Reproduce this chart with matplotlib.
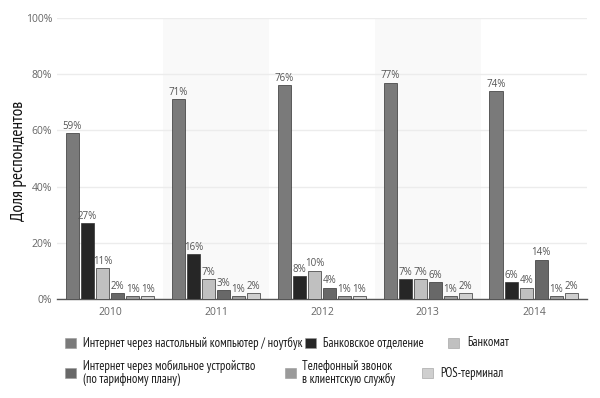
import matplotlib
matplotlib.use("Agg")
import matplotlib.pyplot as plt
from matplotlib.patches import Rectangle
import numpy as np

years = ["2010", "2011", "2012", "2013", "2014"]
series_names = [
    "Интернет через настольный компьютер / ноутбук",
    "Банковское отделение",
    "Банкомат",
    "Интернет через мобильное устройство\n(по тарифному плану)",
    "Телефонный звонок\nв клиентскую службу",
    "POS-терминал",
]
desktop = [59, 71, 76, 77, 74]
branch = [27, 16, 8, 7, 6]
atm = [11, 7, 10, 7, 4]
mobile = [2, 3, 4, 6, 14]
phone = [1, 1, 1, 1, 1]
pos = [1, 2, 1, 2, 2]
series = [desktop, branch, atm, mobile, phone, pos]
colors = ["#7a7a7a", "#262626", "#c0c0c0", "#686868", "#9a9a9a", "#cfcfcf"]
y_ticks = [0, 20, 40, 60, 80, 100]

condensed = ["PT Sans Narrow", "Roboto Condensed", "DejaVu Sans"]
plain = ["Open Sans", "DejaVu Sans"]

fig = plt.figure(figsize=(6.0, 3.98), dpi=100)
ax = fig.add_axes([0.095, 0.249, 0.883, 0.706])

x = np.arange(len(years))
n = len(series)
slot = 0.142
bw = 0.127
for i, vals in enumerate(series):
    pos_x = x + (i - (n - 1) / 2) * slot
    bars = ax.bar(pos_x, vals, width=bw, color=colors[i], edgecolor="#333333",
                  linewidth=0.5, zorder=3)
    ax.bar_label(bars, labels=[f"{v}%" for v in vals], padding=1, fontsize=7,
                 color="#555555", zorder=4, family=plain)

for k in (1, 3):
    ax.axvspan(k - 0.5, k + 0.5, color="#f9f9f9", zorder=0, lw=0)

ax.set_xlim(-0.5, len(years) - 0.5)
ax.set_ylim(0, 100)
ax.set_yticks(y_ticks)
ax.set_yticklabels([f"{t}%" for t in y_ticks], family=plain)
ax.set_xticks(x)
ax.set_xticklabels(years, family=plain)
ax.tick_params(axis="both", length=0, labelsize=7.5, colors="#666666")
ax.tick_params(axis="x", pad=6)
ax.grid(axis="y", color="#ececec", linewidth=1, zorder=1)
for s in ("top", "right", "left"):
    ax.spines[s].set_visible(False)
ax.spines["bottom"].set_color("#555555")
ax.spines["bottom"].set_linewidth(1)

ax.set_ylabel("Доля респондентов", fontsize=12.5, family=condensed, color="#111111")
ax.yaxis.set_label_coords(-0.056, 0.49)

# legend, drawn manually
W, H = 600, 398
entries = [
    (0, 65, 343, 83),
    (1, 305, 343, 323),
    (2, 448, 343, 467),
    (3, 65, 373, 83),
    (4, 285, 373, 302),
    (5, 422, 373, 440),
]
for idx, sx, sy, tx in entries:
    fig.patches.append(Rectangle((sx / W, 1 - (sy + 5) / H), 11 / W, 10 / H,
                                 transform=fig.transFigure, facecolor=colors[idx],
                                 edgecolor="#999999", linewidth=0.4))
    fig.text(tx / W, 1 - sy / H, series_names[idx], fontsize=9, family=condensed,
             color="#1a1a1a", va="center", ha="left", linespacing=0.95)

fig.savefig("out.png", dpi=100, facecolor="white")
